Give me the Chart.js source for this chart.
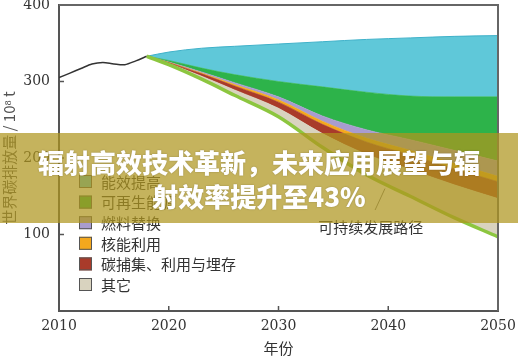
<!DOCTYPE html>
<html><head><meta charset="utf-8">
<script src="https://cdn.jsdelivr.net/npm/chart.js@4.4.1/dist/chart.umd.min.js"></script>
<style>
html,body{margin:0;padding:0;background:#fff;}
#wrap{position:relative;width:518px;height:357px;overflow:hidden;}
canvas{position:absolute;left:0;top:0;}
#banner{position:absolute;left:0;top:133px;width:518px;height:90px;background:rgba(174,150,30,0.72);color:#fff;font-family:"Noto Sans CJK SC";font-weight:900;font-size:26px;line-height:34px;text-align:center;padding-top:12px;box-sizing:border-box;text-shadow:0 0 2px rgba(0,0,0,0.25);}
</style></head><body>
<div id="wrap"><canvas id="c" width="518" height="357"></canvas><div id="banner">辐射高效技术革新，未来应用展望与辐<br>射效率提升至43%</div></div>
<script>
// historical emissions (10^8 t)
const histYears = [2010, 2011, 2012, 2013, 2014, 2015, 2016, 2017, 2018];
const histValues = [305, 311, 317, 323, 325, 323, 322, 327, 333];
// scenario years
const years = [2018, 2020, 2023, 2026, 2030, 2034, 2038, 2042, 2046, 2050];
// sustainable development path (bottom line)
const sustainablePath = [333, 322, 303, 282, 254, 214, 178, 150, 122, 97];
// wedges (reduction by measure), stacked upward from the sustainable path
const otherVals      = [0, 1.5, 4, 7, 11, 18, 27, 35, 43, 50];
const ccusVals       = [0, 1, 3, 5, 8, 12, 16, 19, 21, 22];
const nuclearVals    = [0, 0.5, 1, 2, 3, 4, 5, 6, 7, 7];
const fuelVals       = [0, 0.5, 1.5, 2.5, 4, 7, 11, 14, 17, 20];
const renewVals      = [0, 2, 5, 10.5, 20, 38, 49, 57, 70, 84];
const efficiencyVals = [0, 11, 26, 37, 49, 59, 69, 76, 79, 80];
const seriesLabels = ['能效提高', '可再生能源', '燃料替换', '核能利用', '碳捕集、利用与埋存', '其它'];
const pathLabel = '可持续发展路径';
const xTicks = [2010, 2020, 2030, 2040, 2050];
const yTicks = [100, 200, 300, 400];

const colors = {
  eff: '#5fc8d9', renew: '#2db34a', fuel: '#a99ccf', nuclear: '#f4a81d',
  ccus: '#a93b2a', other: '#d9d3bf', path: '#8cc63f', hist: '#333333'
};
const pts = (vals) => years.map((y, i) => ({x: y, y: vals[i]}));
const area = (label, vals, col, extra) => Object.assign({
  label, data: pts(vals), stack: 'w', fill: '-1', backgroundColor: col,
  borderColor: col, borderWidth: 0.6, pointRadius: 0, cubicInterpolationMode: 'monotone'
}, extra || {});

const datasets = [
  {label: pathLabel, data: pts(sustainablePath), stack: 'w', fill: false, borderColor: colors.path,
   borderWidth: 3.5, pointRadius: 0, cubicInterpolationMode: 'monotone'},
  area(seriesLabels[5], otherVals, colors.other),
  area(seriesLabels[4], ccusVals, colors.ccus),
  area(seriesLabels[3], nuclearVals, colors.nuclear),
  area(seriesLabels[2], fuelVals, colors.fuel),
  area(seriesLabels[1], renewVals, colors.renew),
  area(seriesLabels[0], efficiencyVals, colors.eff, {borderColor: '#3fb1c9', borderWidth: 1}),
  {label: 'hist', data: histYears.map((y, i) => ({x: y, y: histValues[i]})), stack: 'h', fill: false,
   borderColor: colors.hist, borderWidth: 1.5, pointRadius: 0, tension: 0.3}
];
const legendColors = [colors.eff, colors.renew, colors.fuel, colors.nuclear, colors.ccus, colors.other];

const decor = {
  id: 'decor',
  afterDatasetsDraw(chart) {
    const {ctx, chartArea: a, scales: {x, y}} = chart;
    ctx.save();
    // frame top & right
    ctx.strokeStyle = '#666'; ctx.lineWidth = 2;
    ctx.beginPath(); ctx.moveTo(a.left, a.top); ctx.lineTo(a.right, a.top); ctx.lineTo(a.right, a.bottom); ctx.stroke();
    // inside ticks
    ctx.strokeStyle = '#555'; ctx.lineWidth = 1.5;
    xTicks.slice(1, -1).forEach(v => { const px = x.getPixelForValue(v); ctx.beginPath(); ctx.moveTo(px, a.bottom); ctx.lineTo(px, a.bottom - 5); ctx.stroke(); });
    yTicks.slice(0, -1).forEach(v => { const py = y.getPixelForValue(v); ctx.beginPath(); ctx.moveTo(a.left, py); ctx.lineTo(a.left + 5, py); ctx.stroke(); });
    // legend
    ctx.font = '15px "Noto Sans CJK SC"'; ctx.textBaseline = 'middle'; ctx.textAlign = 'left';
    seriesLabels.forEach((lab, i) => {
      const bx = a.left + 20, by = a.top + 170 + i * 20.6;
      ctx.fillStyle = legendColors[i]; ctx.fillRect(bx, by, 13, 13);
      ctx.strokeStyle = '#555'; ctx.lineWidth = 1; ctx.strokeRect(bx + 0.5, by + 0.5, 12, 12);
      ctx.fillStyle = '#333'; ctx.fillText(lab, bx + 22, by + 7);
    });
    // annotation
    ctx.strokeStyle = '#555'; ctx.lineWidth = 0.8;
    ctx.beginPath(); ctx.moveTo(x.getPixelForValue(2038.8), y.getPixelForValue(132)); ctx.lineTo(x.getPixelForValue(2039.7), y.getPixelForValue(160)); ctx.stroke();
    ctx.font = '15px "Noto Sans CJK SC"'; ctx.fillStyle = '#333'; ctx.textAlign = 'center';
    ctx.fillText(pathLabel, x.getPixelForValue(2038.4), y.getPixelForValue(109));
    ctx.restore();
  }
};

new Chart(document.getElementById('c'), {
  type: 'line',
  data: {datasets},
  options: {
    responsive: false, animation: false,
    layout: {padding: {top: 5, right: 20, left: 0, bottom: 0}},
    plugins: {legend: {display: false}, tooltip: {enabled: false}},
    scales: {
      x: {
        type: 'linear', min: 2010, max: 2050,
        afterBuildTicks: s => { s.ticks = xTicks.map(v => ({value: v})); },
        afterFit: s => { s.height = 46; s.paddingLeft = 0; s.paddingRight = 0; },
        grid: {display: false, drawTicks: false},
        border: {display: true, color: '#555', width: 2},
        ticks: {font: {family: 'DejaVu Serif', size: 14}, color: '#333', padding: 7, maxRotation: 0, callback: v => String(v)},
        title: {display: true, text: '年份', font: {family: 'Noto Sans CJK SC', size: 15}, color: '#333', padding: {top: 0, bottom: 0}}
      },
      y: {
        min: 0, max: 400, stacked: true,
        afterBuildTicks: s => { s.ticks = yTicks.map(v => ({value: v})); },
        afterFit: s => { s.width = 59; s.paddingTop = 0; s.paddingBottom = 0; },
        grid: {display: false, drawTicks: false},
        border: {display: true, color: '#555', width: 2},
        ticks: {font: {family: 'DejaVu Serif', size: 14}, color: '#333', padding: 9},
        title: {display: true, text: '世界碳排放量 / 10⁸ t', font: {family: 'Noto Sans CJK SC', size: 15}, color: '#555', padding: {top: 0, bottom: 2}}
      }
    }
  },
  plugins: [decor]
});
</script>
</body></html>
